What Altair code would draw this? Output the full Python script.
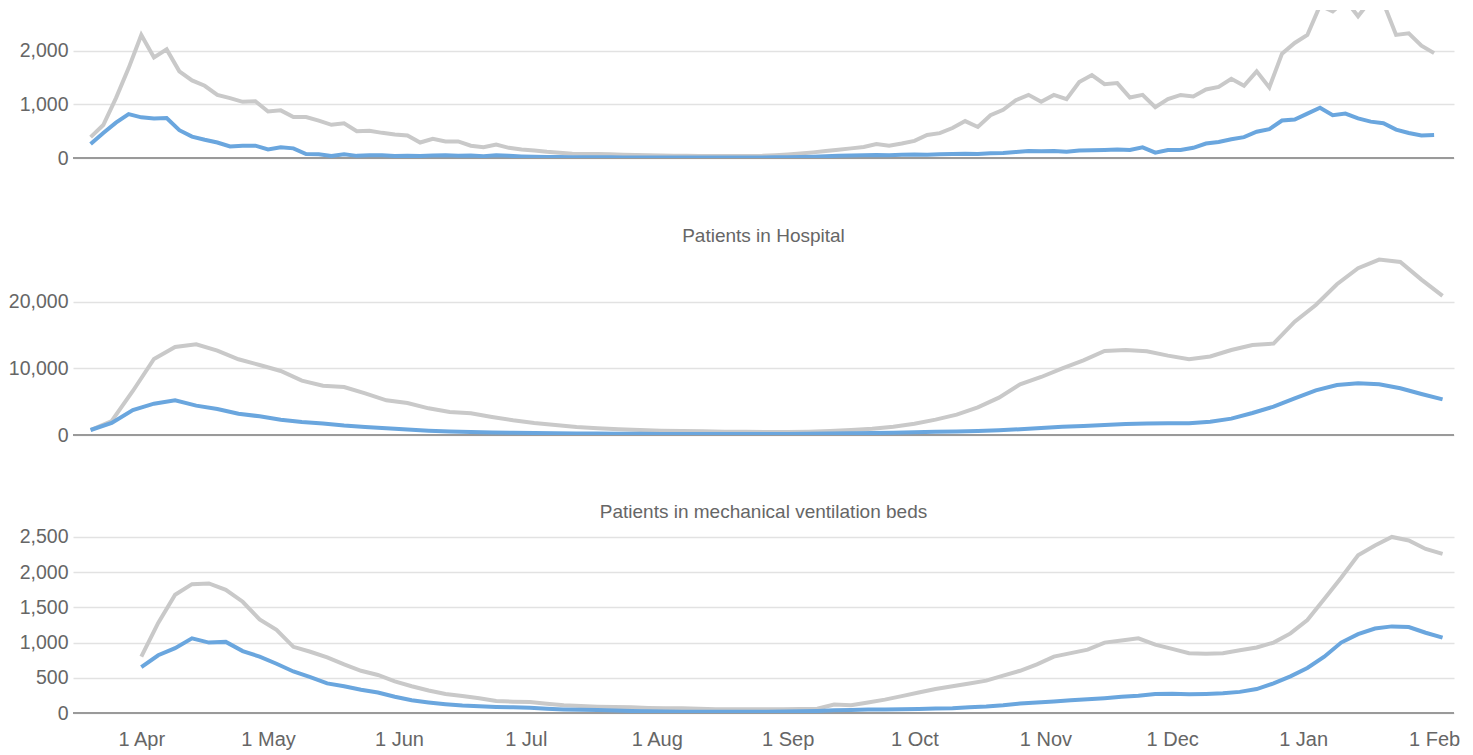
import altair as alt
import pandas as pd

# ---------------- data ----------------
# Top panel: daily values, one reading every 3 days from 20 Mar 2020
TOP_START = "2020-03-20"
TOP_STEP = "3D"
top_grey = [390, 617, 1120, 1680, 2300, 1880, 2030, 1620, 1450, 1350,
            1180, 1120, 1050, 1060, 870, 890, 766, 766, 700, 620,
            650, 500, 510, 470, 440, 420, 290, 360, 310, 310,
            230, 200, 250, 190, 160, 140, 115, 100, 80, 75,
            75, 70, 60, 55, 50, 45, 40, 40, 38, 37,
            37, 37, 37, 40, 50, 65, 85, 105, 130, 155,
            180, 205, 260, 230, 270, 320, 430, 465, 560, 690,
            580, 800, 900, 1080, 1180, 1050, 1178, 1100, 1420, 1550,
            1380, 1400, 1130, 1180, 950, 1100, 1178, 1150, 1280, 1330,
            1480, 1350, 1620, 1320, 1950, 2150, 2300, 2850, 2740, 2950,
            2650, 2950, 2900, 2300, 2330, 2100, 1960]
top_blue = [260, 467, 660, 820, 760, 740, 748, 520, 400, 340,
            290, 215, 230, 230, 160, 200, 180, 75, 70, 40,
            70, 40, 50, 50, 37, 40, 37, 45, 50, 40,
            45, 35, 50, 40, 30, 25, 20, 20, 15, 15,
            12, 12, 10, 10, 10, 10, 8, 8, 8, 8,
            8, 8, 10, 10, 12, 15, 20, 25, 35, 40,
            45, 50, 55, 50, 60, 65, 60, 70, 75, 80,
            75, 90, 95, 110, 130, 125, 130, 115, 140, 145,
            150, 160, 150, 200, 100, 150, 150, 190, 270, 300,
            350, 390, 490, 540, 700, 720, 830, 940, 800, 830,
            740, 680, 650, 530, 467, 420, 430]

# Patients in Hospital: one reading every 5 days from 20 Mar 2020
HOSP_START = "2020-03-20"
HOSP_STEP = "5D"
hosp_grey = [750, 2100, 6600, 11400, 13200, 13600, 12650, 11350, 10500, 9600,
             8150, 7400, 7200, 6250, 5200, 4800, 4000, 3450, 3250, 2700,
             2200, 1800, 1500, 1200, 1000, 850, 750, 650, 600, 550,
             500, 480, 450, 450, 500, 600, 750, 950, 1250, 1700,
             2300, 3050, 4150, 5600, 7600, 8700, 10000, 11200, 12600, 12750,
             12560, 11900, 11350, 11780, 12750, 13500, 13700, 17000, 19500, 22600,
             25000, 26300, 25950, 23300, 20850]
hosp_blue = [750, 1800, 3750, 4700, 5200, 4400, 3900, 3200, 2800, 2280,
             1950, 1720, 1410, 1200, 1000, 820, 650, 520, 450, 380,
             330, 300, 270, 240, 210, 190, 175, 160, 150, 145,
             145, 145, 150, 160, 180, 210, 250, 300, 350, 420,
             470, 520, 600, 720, 860, 1060, 1220, 1350, 1500, 1640,
             1730, 1750, 1780, 2000, 2450, 3300, 4250, 5500, 6700, 7500,
             7750, 7600, 7000, 6150, 5350]

# Patients in mechanical ventilation beds: one reading every 4 days from 1 Apr 2020
VENT_START = "2020-04-01"
VENT_STEP = "4D"
vent_grey = [800, 1280, 1680, 1830, 1840, 1750, 1580, 1330, 1180, 940,
             870, 790, 690, 600, 540, 450, 380, 320, 270, 240,
             210, 170, 160, 155, 130, 110, 100, 90, 85, 80,
             72, 68, 66, 60, 55, 52, 52, 52, 55, 58,
             62, 120, 110, 150, 190, 240, 290, 340, 380, 420,
             460, 530, 600, 690, 800, 850, 900, 1000, 1030, 1060,
             970, 910, 850, 840, 850, 890, 930, 1000, 1130, 1320,
             1620, 1920, 2240, 2380, 2500, 2450, 2330, 2260]
vent_blue = [650, 820, 920, 1060, 1000, 1010, 880, 800, 700, 590,
             510, 420, 380, 330, 290, 230, 180, 150, 125, 105,
             95, 85, 80, 75, 60, 50, 45, 42, 35, 30,
             25, 22, 19, 18, 18, 18, 19, 19, 20, 25,
             30, 38, 42, 48, 50, 52, 56, 64, 68, 80,
             92, 110, 135, 150, 165, 180, 195, 210, 230, 245,
             270, 275, 265, 270, 280, 300, 340, 420, 520, 640,
             800, 1000, 1120, 1200, 1230, 1220, 1140, 1070]

# x-axis tick labels: 1st of each month
month_ticks = [(2020, 4), (2020, 5), (2020, 6), (2020, 7), (2020, 8), (2020, 9),
               (2020, 10), (2020, 11), (2020, 12), (2021, 1), (2021, 2)]

top_yticks = [0, 1000, 2000]
hosp_yticks = [0, 10000, 20000]
vent_yticks = [0, 500, 1000, 1500, 2000, 2500]

# ---------------- styling ----------------
FONT = "Liberation Sans"
GREY = "#c9c9c9"
BLUE = "#6aa6de"
LABEL = "#666666"
GRID = "#e2e2e2"
ZERO = "#9a9a9a"
W = 1381

XDOM = [alt.DateTime(year=2020, month=3, date=15, hours=20),
        alt.DateTime(year=2021, month=2, date=5, hours=17)]
TICKS = [alt.DateTime(year=y, month=m, date=1) for y, m in month_ticks]


def frame(start, step, vals):
    return pd.DataFrame({"date": pd.date_range(start, periods=len(vals), freq=step),
                         "value": vals})


def panel(grey, blue, start, step, ymax, yticks, height, title=None, title_dy=0,
          show_x=False):
    if show_x:
        x_axis = alt.Axis(values=TICKS, format="%-d %b", labelFontSize=20,
                          labelColor=LABEL, labelFont=FONT, labelPadding=16,
                          ticks=False, domain=False, grid=False)
    else:
        x_axis = None
    x = alt.X("date:T", scale=alt.Scale(domain=XDOM), axis=x_axis, title=None)
    y_axis = alt.Axis(values=yticks, format=",.0f", labelFontSize=19.5,
                      labelColor=LABEL, labelFont=FONT, labelPadding=5,
                      ticks=False, tickSize=0, domain=False, grid=True,
                      gridColor=GRID, gridWidth=1.4)
    y = alt.Y("value:Q", scale=alt.Scale(domain=[0, ymax], nice=False),
              axis=y_axis, title=None)
    zero = alt.Chart(pd.DataFrame({"value": [0]})).mark_rule(
        color=ZERO, strokeWidth=2).encode(y=y)
    g = alt.Chart(frame(start, step, grey)).mark_line(
        color=GREY, strokeWidth=4, clip=True).encode(x=x, y=y)
    b = alt.Chart(frame(start, step, blue)).mark_line(
        color=BLUE, strokeWidth=4, clip=True).encode(x=x, y=y)
    ch = alt.layer(zero, g, b).properties(width=W, height=height)
    if title:
        ch = ch.properties(title=alt.TitleParams(
            text=title, fontSize=19, fontWeight="normal", color=LABEL, font=FONT,
            anchor="middle", baseline="alphabetic", offset=16, dy=title_dy))
    return ch


top = panel(top_grey, top_blue, TOP_START, TOP_STEP, 2766, top_yticks, 148)
mid = panel(hosp_grey, hosp_blue, HOSP_START, HOSP_STEP, 26690, hosp_yticks, 178,
            title="Patients in Hospital", title_dy=20)
bot = panel(vent_grey, vent_blue, VENT_START, VENT_STEP, 2542, vent_yticks, 179,
            title="Patients in mechanical ventilation beds", title_dy=26,
            show_x=True)

chart = alt.vconcat(top, mid, bot, spacing=99, bounds="flush",
                    padding={"left": 0, "top": 2, "right": 5, "bottom": 5}
                    ).configure(font=FONT).configure_view(strokeWidth=0)

chart.save("out.html", embed_options={"renderer": "svg", "actions": False})
